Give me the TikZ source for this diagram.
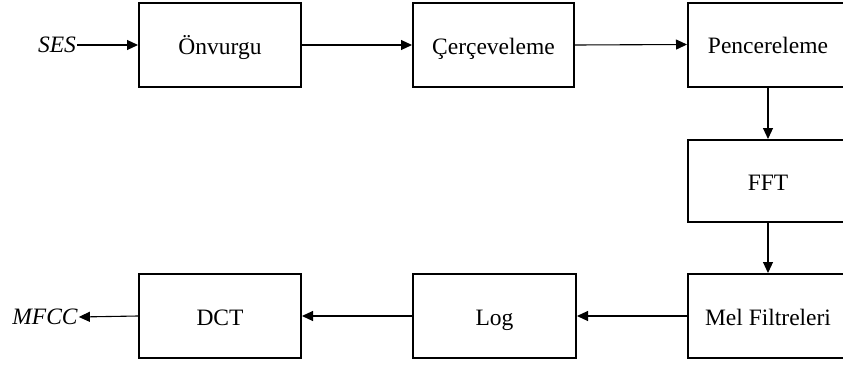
\documentclass[tikz,border=0pt]{standalone}
\usepackage{fontspec}
\setmainfont{Liberation Serif}
\usetikzlibrary{arrows.meta}
\begin{document}
\begin{tikzpicture}[x=1pt,y=-1pt,
  block/.style={draw, line width=2pt, minimum width=162pt, minimum height=84pt, inner sep=0pt, text height=20pt, text depth=2pt, font=\fontsize{23.5}{26}\selectfont},
  conn/.style={line width=1.1pt, -{Triangle[length=11pt,width=10pt]}},
  lbl/.style={inner sep=1pt, font=\fontsize{23.5}{26}\selectfont\itshape}]
\useasboundingbox (0,0) rectangle (843,364);
\begin{scope}
\clip (0,0) rectangle (843,364);
\node[block] (onv) at (220,45) {Önvurgu};
\node[block, minimum width=161pt] (cer) at (493.5,45) {Çerçeveleme};
\node[block, minimum width=160pt] (pen) at (768,44.5) {Pencereleme};
\node[block, minimum width=160pt, minimum height=82pt] (fft) at (768,181) {FFT};
\node[block, minimum width=160pt] (mel) at (768,316) {Mel Filtreleri};
\node[block, minimum width=163pt] (log) at (494.5,316) {Log};
\node[block] (dct) at (220,316) {DCT};
\node[lbl] (ses) at (57,45) {SES};
\node[lbl] (mfcc) at (45,317) {MFCC};
\draw[conn] (ses.east) -- (onv.west);
\draw[conn] (onv.east) -- (cer.west);
\draw[conn] (cer.east) -- (pen.west);
\draw[conn] (pen.south) -- (fft.north);
\draw[conn] (fft.south) -- (mel.north);
\draw[conn] (mel.west) -- (log.east);
\draw[conn] (log.west) -- (dct.east);
\draw[conn] (dct.west) -- (mfcc.east);
\end{scope}
\end{tikzpicture}
\end{document}
